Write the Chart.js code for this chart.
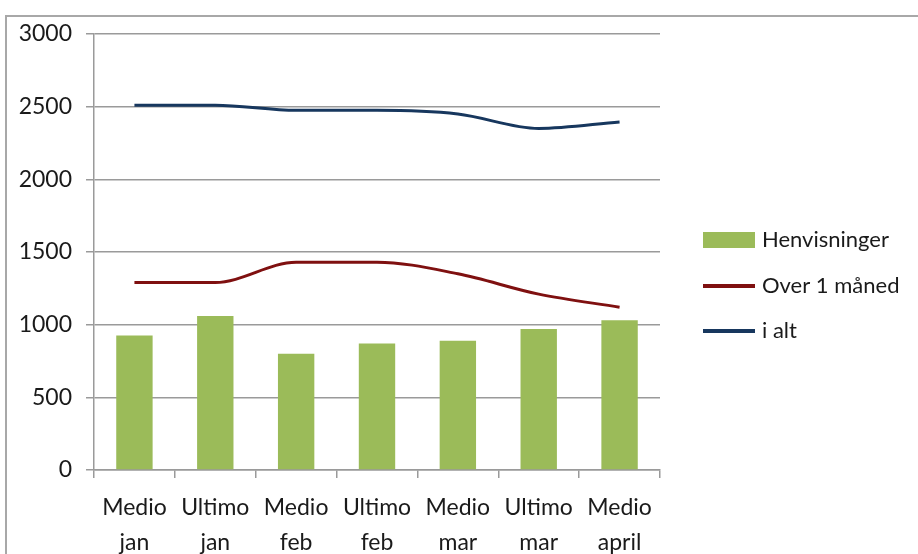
<!DOCTYPE html>
<html>
<head>
<meta charset="utf-8">
<script src="https://cdn.jsdelivr.net/npm/chart.js@4/dist/chart.umd.min.js"></script>
<style>
  html, body { margin: 0; padding: 0; background: #fff; overflow: hidden; }
  #wrap { position: relative; width: 918px; height: 554px; }
  #frame { position: absolute; left: 5px; top: 15px; width: 1000px; height: 1000px; border: 2px solid #a8a8a8; }
  #chart { position: absolute; left: 0; top: 0; }
</style>
</head>
<body>
<div id="wrap">
  <div id="frame"></div>
  <canvas id="chart" width="918" height="554"></canvas>
</div>
<script>
// Chart data
const categories = [
  ['Medio', 'jan'], ['Ultimo', 'jan'], ['Medio', 'feb'], ['Ultimo', 'feb'],
  ['Medio', 'mar'], ['Ultimo', 'mar'], ['Medio', 'april']
];
const henvisninger = [925, 1060, 800, 870, 890, 970, 1030];
const overEnManed = [1290, 1290, 1430, 1430, 1350, 1210, 1120];
const iAlt = [2510, 2510, 2475, 2475, 2450, 2350, 2395];
const yTicks = [0, 500, 1000, 1500, 2000, 2500, 3000];

const fontFamily = 'Lato, "Open Sans", sans-serif';
const gridColor = '#9a9a9a';
const textColor = '#1a1a1a';

// Legend drawn to the right of the plot, Excel style
const sideLegend = {
  id: 'sideLegend',
  afterDraw(chart) {
    const ctx = chart.ctx;
    const x0 = chart.chartArea.right + 43;
    const rows = [240, 286, 331];
    ctx.save();
    ctx.font = '22px ' + fontFamily;
    ctx.textBaseline = 'middle';
    chart.data.datasets.forEach(function(ds, i) {
      const y = rows[i];
      if (ds.type === 'bar') {
        ctx.fillStyle = ds.backgroundColor;
        ctx.fillRect(x0, y - 8, 52, 16);
      } else {
        ctx.strokeStyle = ds.borderColor;
        ctx.lineWidth = 4;
        ctx.beginPath();
        ctx.moveTo(x0, y);
        ctx.lineTo(x0 + 52, y);
        ctx.stroke();
      }
      ctx.fillStyle = textColor;
      ctx.fillText(ds.label, x0 + 59, y);
    });
    ctx.restore();
  }
};

const ctx = document.getElementById('chart').getContext('2d');
const chart = new Chart(ctx, {
  data: {
    labels: categories,
    datasets: [
      {
        type: 'bar',
        label: 'Henvisninger',
        data: henvisninger,
        backgroundColor: '#9bbb59',
        borderWidth: 0,
        categoryPercentage: 1,
        barPercentage: 0.45,
        order: 2
      },
      {
        type: 'line',
        label: 'Over 1 måned',
        data: overEnManed,
        borderColor: '#7f1010',
        borderWidth: 3,
        pointRadius: 0,
        cubicInterpolationMode: 'monotone',
        order: 1
      },
      {
        type: 'line',
        label: 'i alt',
        data: iAlt,
        borderColor: '#17375e',
        borderWidth: 3,
        pointRadius: 0,
        cubicInterpolationMode: 'monotone',
        order: 0
      }
    ]
  },
  options: {
    responsive: false,
    animation: false,
    layout: {
      padding: { top: 34, right: 258, bottom: 0, left: 0 }
    },
    scales: {
      x: {
        offset: true,
        grid: {
          offset: true,
          drawOnChartArea: false,
          color: gridColor,
          lineWidth: 1.5,
          tickLength: 8
        },
        border: { color: gridColor, width: 1.5 },
        ticks: {
          color: textColor,
          padding: 12,
          maxRotation: 0,
          autoSkip: false,
          font: { family: fontFamily, size: 23, lineHeight: 1.52 }
        },
        afterFit: function(scale) { scale.height = 84; }
      },
      y: {
        min: 0,
        max: 3000,
        afterBuildTicks: function(scale) {
          scale.ticks = yTicks.map(function(v) { return { value: v }; });
        },
        grid: {
          color: gridColor,
          lineWidth: 1.5,
          tickLength: 8
        },
        border: { color: gridColor, width: 1.5 },
        ticks: {
          color: textColor,
          padding: 14,
          font: { family: fontFamily, size: 23 },
          callback: function(value) { return String(value); }
        },
        afterFit: function(scale) { scale.width = 94; }
      }
    },
    plugins: {
      legend: { display: false },
      tooltip: { enabled: false }
    }
  },
  plugins: [sideLegend]
});
</script>
</body>
</html>
